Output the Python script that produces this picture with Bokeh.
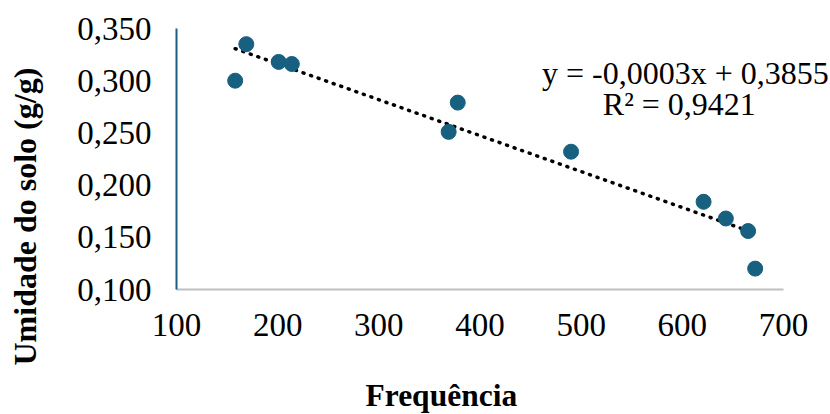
import numpy as np
from bokeh.plotting import figure
from bokeh.models import Range1d, FixedTicker, CustomJSTickFormatter, Label
from bokeh.embed import file_html
from bokeh.resources import INLINE

# ---- data ----
freq = [158, 169, 201, 214, 369, 378, 490, 621, 643, 665, 672]
umid = [0.300, 0.335, 0.318, 0.316, 0.251, 0.279, 0.232, 0.184, 0.168, 0.156, 0.120]
x_ticks = [100, 200, 300, 400, 500, 600, 700]
y_ticks = [0.100, 0.150, 0.200, 0.250, 0.300, 0.350]
eq_text = "y = -0,0003x + 0,3855"
r2_text = "R² = 0,9421"
x_title = "Frequência"
y_title = "Umidade do solo (g/g)"

FONT = "Liberation Serif"
PT_COLOR = "#17607f"

# the frame covers the whole canvas; axes are drawn at fixed locations inside it
p = figure(width=830, height=414, output_backend="svg", toolbar_location=None,
           x_range=Range1d(-73.97, 746.45), y_range=Range1d(-0.01973, 0.37682),
           min_border_left=0, min_border_right=0, min_border_top=0,
           min_border_bottom=0)
p.outline_line_color = None
p.xgrid.visible = False
p.ygrid.visible = False
p.background_fill_color = "white"
p.border_fill_color = "white"

xa, ya = p.xaxis[0], p.yaxis[0]
for ax in (xa, ya):
    ax.major_tick_line_color = None
    ax.minor_tick_line_color = None
    ax.major_tick_out = 0
    ax.major_tick_in = 0
    ax.major_label_text_font = FONT
    ax.major_label_text_font_size = "33px"
    ax.major_label_text_color = "black"
    ax.axis_line_width = 2

xa.ticker = FixedTicker(ticks=x_ticks)
ya.ticker = FixedTicker(ticks=y_ticks)
ya.formatter = CustomJSTickFormatter(code="return tick.toFixed(3).replace('.', ',');")
xa.fixed_location = y_ticks[0]
ya.fixed_location = x_ticks[0]
xa.bounds = (x_ticks[0], x_ticks[-1])
ya.bounds = (y_ticks[0], y_ticks[-1])
xa.axis_line_color = "#bfbfbf"
ya.axis_line_color = "#1f5f7f"
xa.major_label_standoff = 24
ya.major_label_standoff = 25

# trendline (least squares)
slope, intercept = np.polyfit(freq, umid, 1)
tx = [min(freq), max(freq)]
ty = [slope * v + intercept for v in tx]
p.line(tx, ty, line_color="black", line_width=3.5, line_dash="1 7", line_cap="round")

p.scatter(freq, umid, size=15, fill_color=PT_COLOR, line_color=PT_COLOR)

# equation labels
p.add_layout(Label(x=603, y=0.30738, text=eq_text, text_font=FONT, text_font_size="32px",
                   text_align="center", text_baseline="middle", text_color="black"))
p.add_layout(Label(x=597, y=0.27768, text=r2_text, text_font=FONT, text_font_size="32px",
                   text_align="center", text_baseline="middle", text_color="black"))

# axis titles
p.add_layout(Label(x=286.8, y=-0.00192, text=x_title, text_font=FONT,
                   text_font_size="31.5px", text_font_style="bold",
                   text_align="left", text_baseline="middle", text_color="black"))
p.add_layout(Label(x=-50.05, y=0.0272, text=y_title, text_font=FONT,
                   text_font_size="32px", text_font_style="bold", angle=np.pi / 2,
                   text_align="left", text_baseline="middle", text_color="black"))

open("out.html", "w").write(file_html(p, INLINE))
